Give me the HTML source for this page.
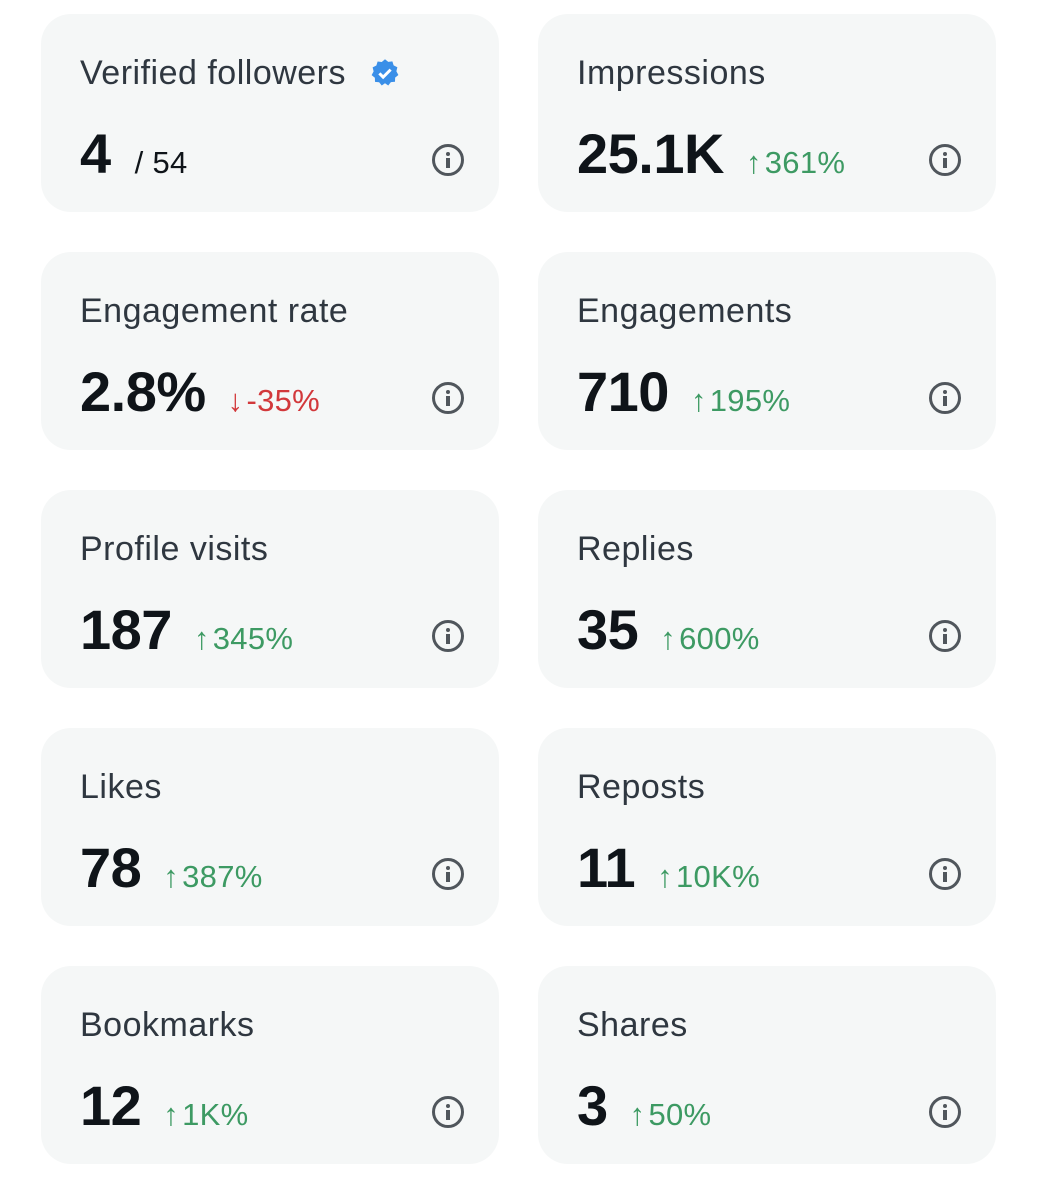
<!DOCTYPE html><html><head><style>
body{margin:0;width:1038px;height:1200px;background:#fff;position:relative;font-family:"Liberation Sans",sans-serif;overflow:hidden}
.c{position:absolute;width:458px;height:198px;background:#f5f7f7;border-radius:30px}
.t{position:absolute;left:39px;top:42px;font-size:34px;line-height:34px;letter-spacing:0.5px;color:#2f3740;white-space:nowrap}
.v{position:absolute;left:39px;top:112px;display:flex;align-items:baseline;white-space:nowrap;line-height:55px}
.n{font-size:56px;font-weight:bold;color:#0f1419;letter-spacing:-0.5px}
.d{font-size:31px;margin-left:22px;letter-spacing:0.3px}
.d b{font-weight:normal;margin-right:3px}
.g{color:#3d9a63}.r{color:#d2383b}
.i{position:absolute;left:391px;top:130px;width:26px;height:26px;border:3px solid #50565c;border-radius:50%}
.i:before{content:"";position:absolute;left:11px;top:5px;width:4px;height:4px;background:#50565c;border-radius:50%}
.i:after{content:"";position:absolute;left:11px;top:11px;width:4px;height:10px;background:#50565c}
</style></head><body>
<div class="c" style="left:41px;top:14px"><div class="t">Verified followers <svg width="30" height="30" viewBox="0 0 24 24" style="vertical-align:-4px;margin-left:14px"><path fill="#3a8fe8" d="M12 1l2.6 2.1 3.3-.4 1 3.2 3 1.5-.8 3.2 1.6 3-2.6 2.1-.1 3.3-3.3.3L14.6 22 12 20.2 9.4 22l-2.1-2.6-3.3-.3-.1-3.3L1.3 13.7l1.6-3-.8-3.2 3-1.5 1-3.2 3.3.4z"/><path d="M7.5 12.3l3 3 6-6" stroke="#fff" stroke-width="2.4" fill="none"/></svg></div><div class="v"><span class="n">4</span><span class="d" style="color:#0f1419;margin-left:24px">/ 54</span></div><div class="i"></div></div>
<div class="c" style="left:538px;top:14px"><div class="t">Impressions</div><div class="v"><span class="n">25.1K</span><span class="d g"><b>↑</b>361%</span></div><div class="i"></div></div>
<div class="c" style="left:41px;top:252px"><div class="t">Engagement rate</div><div class="v"><span class="n">2.8%</span><span class="d r"><b>↓</b>-35%</span></div><div class="i"></div></div>
<div class="c" style="left:538px;top:252px"><div class="t">Engagements</div><div class="v"><span class="n">710</span><span class="d g"><b>↑</b>195%</span></div><div class="i"></div></div>
<div class="c" style="left:41px;top:490px"><div class="t">Profile visits</div><div class="v"><span class="n">187</span><span class="d g"><b>↑</b>345%</span></div><div class="i"></div></div>
<div class="c" style="left:538px;top:490px"><div class="t">Replies</div><div class="v"><span class="n">35</span><span class="d g"><b>↑</b>600%</span></div><div class="i"></div></div>
<div class="c" style="left:41px;top:728px"><div class="t">Likes</div><div class="v"><span class="n">78</span><span class="d g"><b>↑</b>387%</span></div><div class="i"></div></div>
<div class="c" style="left:538px;top:728px"><div class="t">Reposts</div><div class="v"><span class="n">11</span><span class="d g"><b>↑</b>10K%</span></div><div class="i"></div></div>
<div class="c" style="left:41px;top:966px"><div class="t">Bookmarks</div><div class="v"><span class="n">12</span><span class="d g"><b>↑</b>1K%</span></div><div class="i"></div></div>
<div class="c" style="left:538px;top:966px"><div class="t">Shares</div><div class="v"><span class="n">3</span><span class="d g"><b>↑</b>50%</span></div><div class="i"></div></div>
</body></html>
